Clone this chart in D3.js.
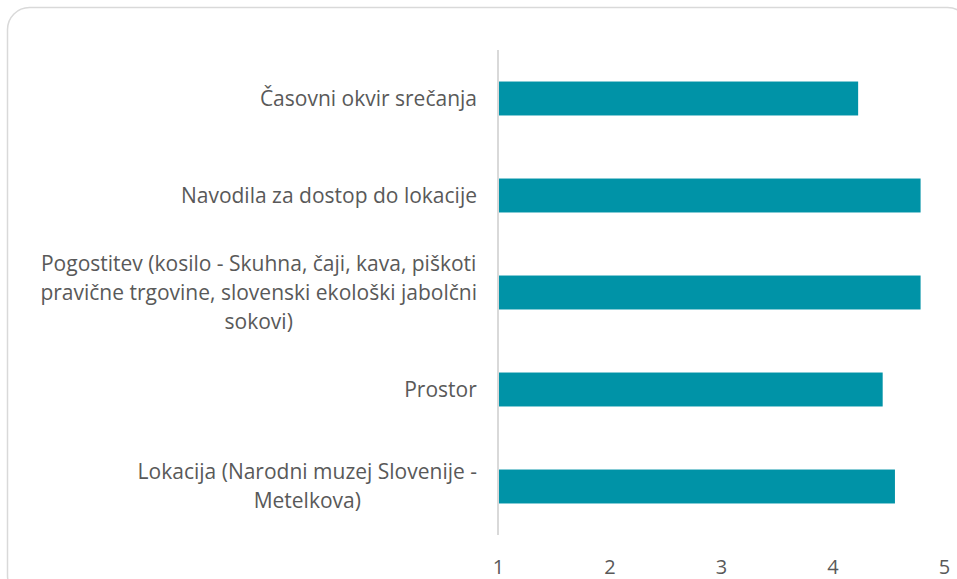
<!DOCTYPE html>
<html><head><meta charset="utf-8">
<script src="https://cdn.jsdelivr.net/npm/d3@7"></script>
<style>
html,body{margin:0;padding:0;background:#fff;overflow:hidden;}
svg{display:block;}
</style></head>
<body>
<svg id="chart" width="957" height="579"></svg>
<script>
const categories = [
  "Časovni okvir srečanja",
  "Navodila za dostop do lokacije",
  "Pogostitev (kosilo - Skuhna, čaji, kava, piškoti\npravične trgovine, slovenski ekološki jabolčni\nsokovi)",
  "Prostor",
  "Lokacija (Narodni muzej Slovenije -\nMetelkova)"
];
const values = [4.23, 4.79, 4.79, 4.45, 4.56];
const xTicks = [1, 2, 3, 4, 5];

const svg = d3.select("#chart");

svg.append("rect")
  .attr("x", 7.5).attr("y", 7.5)
  .attr("width", 962).attr("height", 590)
  .attr("rx", 22).attr("ry", 22)
  .attr("fill", "#fff").attr("stroke", "#d9d9d9").attr("stroke-width", 1.5);

const x = d3.scaleLinear().domain([1, 5]).range([498, 944]);
const y = d3.scaleBand().domain(categories).range([50, 535])
  .paddingInner(0.65).paddingOuter(0.325);

const font = "'Open Sans', sans-serif";
const textColor = "#595959";

// bars
svg.append("g").selectAll("rect").data(categories).join("rect")
  .attr("x", x(1))
  .attr("y", d => y(d))
  .attr("width", (d, i) => x(values[i]) - x(1))
  .attr("height", y.bandwidth())
  .attr("fill", "#0093a7");

// vertical axis line
svg.append("line")
  .attr("x1", x(1)).attr("x2", x(1))
  .attr("y1", 50).attr("y2", 535)
  .attr("stroke", "#d9d9d9").attr("stroke-width", 2);

// category labels
const lineH = 29;
const lab = svg.append("g").attr("font-family", font).attr("font-size", 21)
  .attr("fill", textColor).attr("text-anchor", "middle");
categories.forEach(c => {
  const lines = c.split("\n");
  const cy = y(c) + y.bandwidth() / 2;
  const t = lab.append("text");
  lines.forEach((ln, i) => {
    t.append("tspan").attr("x", 0).attr("y", cy + (i - (lines.length - 1) / 2) * lineH)
      .attr("dy", "0.35em").text(ln);
  });
  const bb = t.node().getBBox();
  const right = 477;
  t.selectAll("tspan").attr("x", right - bb.width / 2);
});

// x axis tick labels
const xAxis = d3.axisBottom(x).tickValues(xTicks).tickSize(0).tickPadding(0)
  .tickFormat(d3.format("d"));
const gx = svg.append("g").attr("transform", "translate(0,567)").call(xAxis);
gx.select(".domain").remove();
gx.selectAll("text").attr("font-family", font).attr("font-size", 20)
  .attr("fill", textColor).attr("dy", "0.35em");
</script>
</body></html>
